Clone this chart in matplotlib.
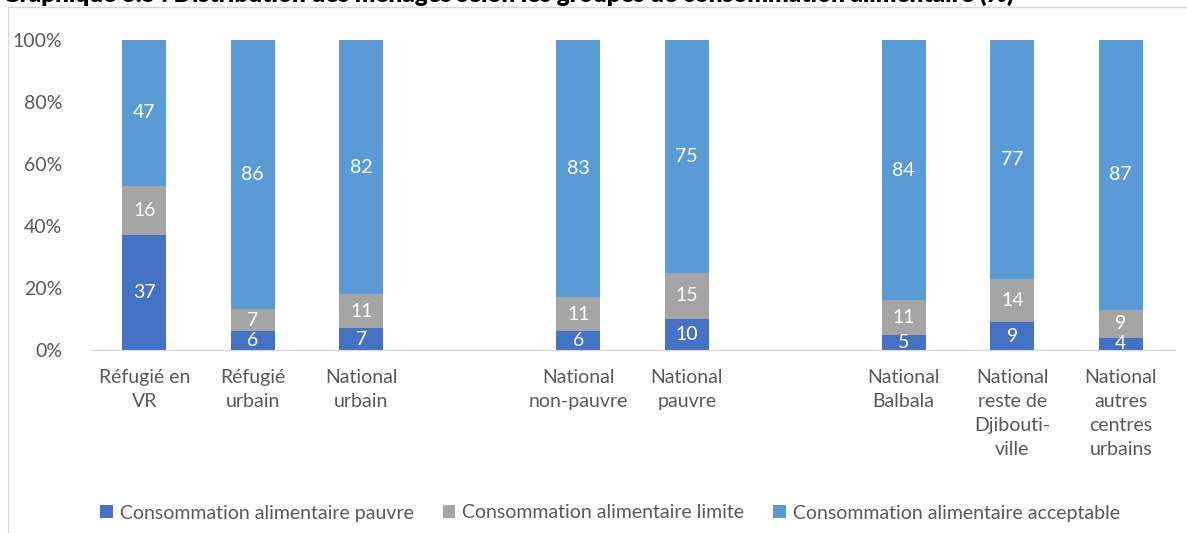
import numpy as np
import matplotlib.pyplot as plt
from matplotlib.patches import Rectangle
from matplotlib.ticker import PercentFormatter

plt.rcParams['font.family'] = ['Lato', 'DejaVu Sans']

# categories, grouped (an empty slot between groups)
groups = [
    ["Réfugié en\nVR", "Réfugié\nurbain", "National\nurbain"],
    ["National\nnon-pauvre", "National\npauvre"],
    ["National\nBalbala", "National\nreste de\nDjibouti-\nville", "National\nautres\ncentres\nurbains"],
]
pauvre = [37, 6, 7, 6, 10, 5, 9, 4]
limite = [16, 7, 11, 11, 15, 11, 14, 9]
acceptable = [47, 86, 82, 83, 75, 84, 77, 87]

series_names = ["Consommation alimentaire pauvre",
                "Consommation alimentaire limite",
                "Consommation alimentaire acceptable"]
colors = ['#4472C4', '#A5A5A5', '#5B9BD5']

# positions with a gap slot between groups
labels = []
pos = []
slot = 0
for g in groups:
    for name in g:
        labels.append(name)
        pos.append(slot)
        slot += 1
    slot += 1
pos = np.array(pos)

data = np.array([pauvre, limite, acceptable], dtype=float)
shares = data / data.sum(axis=0) * 100

fs = 14

fig = plt.figure(figsize=(11.87, 5.33), dpi=100)
ax = fig.add_axes([90 / 1187, 1 - 350 / 533, 1085 / 1187, 310 / 533])

bottom = np.zeros(len(pos))
for i in range(3):
    bars = ax.bar(pos, shares[i], bottom=bottom, width=0.405, color=colors[i],
                  label=series_names[i], zorder=2)
    for j, b in enumerate(bars):
        ax.text(b.get_x() + b.get_width() / 2, bottom[j] + shares[i][j] / 2,
                str(int(data[i][j])), ha='center', va='center',
                color='white', fontsize=fs)
    bottom += shares[i]

ax.set_xlim(-0.5, 9.5)
ax.set_ylim(0, 100)
ax.yaxis.set_major_formatter(PercentFormatter(decimals=0))
ax.set_yticks(np.arange(0, 101, 20))
ax.set_xticks(pos)
ax.set_xticklabels(labels, linespacing=1.5)
ax.tick_params(axis='both', length=0, labelsize=fs, colors='#595959')
ax.tick_params(axis='x', pad=14)
ax.tick_params(axis='y', pad=20)
for s in ['top', 'right', 'left']:
    ax.spines[s].set_visible(False)
ax.spines['bottom'].set_color('#D9D9D9')

fig.legend(loc='center', bbox_to_anchor=(610 / 1187, 1 - 513 / 533), ncol=3,
           frameon=False, fontsize=fs, handlelength=0.65, handleheight=0.65,
           handletextpad=0.35, columnspacing=1.5, labelcolor='#595959')

# chart frame
fig.patches.append(Rectangle((8 / 1187, -0.1), 1.2, 1 - 7 / 533 + 0.1,
                             transform=fig.transFigure, fill=False,
                             edgecolor='#D9D9D9', linewidth=1))

# title, mostly cut off at the top edge (as in the source)
fig.text(0.002, 1.011, "Graphique 3.5 : Distribution des ménages selon les groupes de consommation alimentaire (%)",
         ha='left', va='center', fontsize=17.5, fontweight='heavy', color='black')

fig.savefig('out.png', dpi=100)
